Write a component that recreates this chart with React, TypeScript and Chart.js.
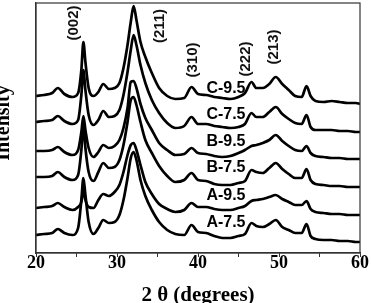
import { useEffect, useRef } from 'react';
import { Chart, registerables } from 'chart.js';

Chart.register(...registerables);

// 2θ positions (degrees) at which the patterns were read
const twoTheta = [
  20, 21, 22, 22.7, 23.5, 24.5, 25.2, 25.6, 25.85, 26.1,
  26.5, 27.1, 27.7, 28.3, 29, 29.7, 30.3, 30.8, 31.3, 31.7,
  32.05, 32.4, 32.9, 33.5, 34.3, 35.2, 36.2, 37.2, 38.3, 39.2,
  40, 41, 42, 43, 44, 45, 45.8, 46.6, 47.2, 48,
  48.8, 49.6, 50.4, 51.2, 52, 52.8, 53.4, 53.9, 54.5, 55.5,
  56.5, 57.5, 58.5, 59.5, 60,
];

const sampleNames = ['C-9.5', 'C-7.5', 'B-9.5', 'B-7.5', 'A-9.5', 'A-7.5'];

// stacked intensities (a.u.)
const intensityC95 = [
  157, 158, 160, 165, 159, 156, 160, 183, 211, 191,
  165, 157, 161, 169, 164, 165, 170, 185, 208, 231,
  247, 233, 211, 196, 180, 165, 157, 154, 155, 166,
  159, 158, 156, 155, 154, 156, 160, 171, 165, 165,
  169, 176, 169, 163, 157, 156, 167, 157, 152, 151,
  152, 151, 150, 150, 149,
];
const intensityC75 = [
  131, 132, 133, 137, 132, 129, 133, 158, 183, 163,
  138, 128, 133, 142, 136, 137, 143, 158, 181, 203,
  218, 208, 188, 170, 153, 140, 130, 125, 127, 136,
  129, 129, 127, 126, 125, 126, 129, 140, 136, 136,
  141, 146, 139, 134, 130, 129, 138, 126, 123, 123,
  123, 122, 122, 121, 121,
];
const intensityB95 = [
  102, 102, 103, 106, 101, 98, 103, 121, 137, 123,
  105, 96, 101, 108, 105, 107, 113, 125, 145, 171,
  172, 165, 149, 135, 123, 110, 103, 98, 99, 105,
  100, 99, 97, 96, 97, 100, 103, 107, 108, 110,
  113, 118, 112, 107, 103, 102, 107, 100, 97, 96,
  95, 95, 94, 94, 94,
];
const intensityB75 = [
  76, 76, 77, 81, 76, 73, 78, 103, 128, 105,
  81, 72, 81, 90, 85, 86, 93, 108, 131, 153,
  156, 148, 131, 113, 100, 87, 77, 71, 73, 80,
  73, 72, 69, 68, 68, 70, 72, 83, 81, 80,
  85, 90, 84, 79, 75, 75, 84, 73, 69, 68,
  67, 67, 66, 66, 66,
];
const intensityA95 = [
  45, 46, 47, 50, 46, 43, 46, 51, 63, 53,
  46, 45, 53, 59, 57, 61, 68, 81, 98, 108,
  110, 103, 88, 71, 59, 49, 44, 41, 43, 50,
  46, 46, 44, 43, 43, 45, 47, 52, 53, 54,
  56, 58, 54, 51, 48, 48, 52, 44, 41, 40,
  39, 39, 38, 38, 38,
];
const intensityA75 = [
  18, 19, 20, 24, 20, 18, 25, 53, 75, 58,
  31, 19, 25, 33, 30, 31, 38, 53, 75, 95,
  101, 93, 73, 57, 43, 31, 23, 19, 18, 28,
  21, 20, 17, 15, 15, 17, 19, 30, 27, 26,
  29, 33, 26, 23, 20, 20, 29, 17, 14, 13,
  13, 12, 12, 11, 11,
];

const seriesValues = [intensityC95, intensityC75, intensityB95, intensityB75, intensityA95, intensityA75];

// annotation anchors (data coordinates)
const sampleLabelTheta = 43.45;
const sampleLabelIntensity = [164, 138, 111, 85, 57, 30];
const peakLabels = ['(002)', '(211)', '(310)', '(222)', '(213)'];
const peakLabelTheta = [24.65, 35.3, 39.4, 45.9, 49.4];
const peakLabelIntensity = [230, 227, 193, 194, 206];

const xMin = 20;
const xMax = 60;
const yMin = 0;
const yMax = 250;

const serif = '"Liberation Serif", "Times New Roman", Times, serif';
const sans = '"Liberation Sans", Arial, Helvetica, sans-serif';

const labelPlugin = {
  id: 'xrdLabels',
  afterDatasetsDraw(chart: any) {
    const { ctx, scales, chartArea } = chart;
    const x = scales.x;
    const y = scales.y;
    ctx.save();
    // frame (top + right sides of box)
    ctx.strokeStyle = '#333';
    ctx.lineWidth = 1.2;
    ctx.strokeRect(chartArea.left, chartArea.top, chartArea.right - chartArea.left, chartArea.bottom - chartArea.top);

    ctx.fillStyle = '#000';
    ctx.textAlign = 'center';
    ctx.textBaseline = 'middle';
    ctx.font = `bold 16px ${sans}`;
    sampleNames.forEach((name, i) => {
      ctx.fillText(name, x.getPixelForValue(sampleLabelTheta), y.getPixelForValue(sampleLabelIntensity[i]));
    });

    ctx.font = `bold 15px ${sans}`;
    ctx.fillStyle = '#111';
    peakLabels.forEach((txt, i) => {
      ctx.save();
      ctx.translate(x.getPixelForValue(peakLabelTheta[i]), y.getPixelForValue(peakLabelIntensity[i]));
      ctx.rotate(-Math.PI / 2);
      ctx.fillText(txt, 0, 0);
      ctx.restore();
    });
    ctx.restore();
  },
};

export default function App() {
  const canvasRef = useRef<HTMLCanvasElement | null>(null);

  useEffect(() => {
    if (!canvasRef.current) return;
    const datasets = sampleNames.map((name, i) => ({
      label: name,
      data: twoTheta.map((t, j) => ({ x: t, y: seriesValues[i][j] })),
      borderColor: '#000',
      borderWidth: 2.7,
      pointRadius: 0,
      fill: false,
      cubicInterpolationMode: 'monotone' as const,
    }));

    const chart = new Chart(canvasRef.current, {
      type: 'line',
      data: { datasets },
      plugins: [labelPlugin],
      options: {
        animation: false,
        responsive: false,
        devicePixelRatio: 1,
        layout: { padding: { top: 3, right: 11, left: 0, bottom: 0 } },
        plugins: {
          legend: { display: false },
          tooltip: { enabled: false },
        },
        scales: {
          x: {
            type: 'linear',
            min: xMin,
            max: xMax,
            ticks: {
              stepSize: 5,
              autoSkip: false,
              maxRotation: 0,
              color: '#000',
              padding: -3,
              font: { family: serif, size: 18, weight: 'bold', lineHeight: 1 },
              callback: (v: any) => (Number(v) % 10 === 0 ? String(v) : ''),
            },
            grid: {
              display: true,
              drawOnChartArea: false,
              drawTicks: true,
              tickLength: 4,
              color: '#333',
            },
            border: { display: true, color: '#333', width: 1.2 },
            title: {
              display: true,
              text: '2 θ (degrees)',
              color: '#000',
              font: { family: serif, size: 21, weight: 'bold', lineHeight: 1 },
              padding: { top: 0, bottom: -3 },
            },
            afterFit: (s: any) => {
              s.height = 50;
            },
          },
          y: {
            type: 'linear',
            min: yMin,
            max: yMax,
            ticks: { display: false },
            grid: { display: false, drawTicks: false },
            border: { display: true, color: '#333', width: 1.2 },
            title: {
              display: true,
              text: '\u00a0\u00a0Intensity',
              color: '#000',
              font: { family: serif, size: 20, weight: 'bold', lineHeight: 1 },
              padding: { top: -6, bottom: 0 },
            },
            afterFit: (s: any) => {
              s.width = 36;
            },
          },
        },
      },
    });
    return () => chart.destroy();
  }, []);

  return (
    <div style={{ position: 'fixed', left: 0, top: 0, width: 371, height: 303, background: '#fff' }}>
      <canvas ref={canvasRef} width={371} height={303} style={{ display: 'block' }} />
    </div>
  );
}
